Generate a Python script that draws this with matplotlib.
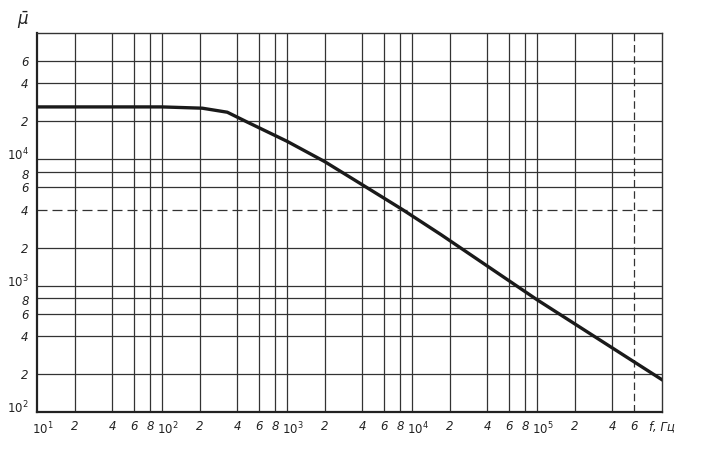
import matplotlib
matplotlib.use("Agg")
import matplotlib.pyplot as plt
import matplotlib.transforms as mtransforms

# кривая mu(f)
freq = [10, 100, 210, 333, 482, 1000, 2000, 4100, 8400, 17000, 100000, 1000000]
mu = [2.6e4, 2.6e4, 2.54e4, 2.36e4, 1.97e4, 1.39e4, 9.6e3, 6.2e3, 4.0e3, 2.54e3, 774, 180]

# сетка и подписи
x_ticks = [10, 20, 40, 60, 80, 100, 200, 400, 600, 800, 1e3, 2e3, 4e3, 6e3, 8e3,
           1e4, 2e4, 4e4, 6e4, 8e4, 1e5, 2e5, 4e5, 6e5, 1e6]
x_labels = ['$10^1$', '2', '4', '6', '8', '$10^2$', '2', '4', '6', '8', '$10^3$', '2', '4', '6', '8',
            '$10^4$', '2', '4', '6', '8', '$10^5$', '2', '4', '6', 'f, Гц']
y_ticks = [100, 200, 400, 600, 800, 1e3, 2e3, 4e3, 6e3, 8e3, 1e4, 2e4, 4e4, 6e4]
y_labels = ['$10^2$', '2', '4', '6', '8', '$10^3$', '2', '4', '6', '8', '$10^4$', '2', '4', '6']

plt.rcParams['mathtext.fontset'] = 'dejavusans'
plt.rcParams['mathtext.default'] = 'it'

fig = plt.figure(figsize=(7.07, 4.61), dpi=100)
ax = fig.add_axes([0.0523, 0.1063, 0.8841, 0.8221])
ax.set_xscale('log')
ax.set_yscale('log')
ax.set_xlim(10, 1e6)
ax.set_ylim(100, 1e5)

grid_col = '#333333'
for x in x_ticks[1:-1]:
    ls = (0, (6, 3)) if x in (6e5,) else '-'
    ax.axvline(x, color=grid_col, lw=0.9, ls=ls, zorder=1)
for y in y_ticks[1:]:
    ls = (0, (8, 4)) if y in (4e3,) else '-'
    ax.axhline(y, color=grid_col, lw=0.9, ls=ls, zorder=1)

ax.plot(freq, mu, color='#1a1a1a', lw=2.4, zorder=3)

ax.set_xticks(x_ticks)
ax.set_xticklabels(x_labels, fontstyle='italic', fontsize=8.5)
ax.set_yticks(y_ticks)
ax.set_yticklabels(y_labels, fontstyle='italic', fontsize=8.5)
ax.minorticks_off()
ax.tick_params(length=0, pad=6, colors='#222222')

# подписи 10^n чуть сдвинуть, чтобы не налезали на "8"
for lab in ax.get_xticklabels():
    if lab.get_text().startswith('$10'):
        lab.set_transform(lab.get_transform() + mtransforms.ScaledTranslation(4 / 72, 0, fig.dpi_scale_trans))
for lab in ax.get_yticklabels():
    if lab.get_text().startswith('$10'):
        lab.set_transform(lab.get_transform() + mtransforms.ScaledTranslation(0, 4 / 72, fig.dpi_scale_trans))
    elif lab.get_text() == '8':
        lab.set_transform(lab.get_transform() + mtransforms.ScaledTranslation(0, -1.5 / 72, fig.dpi_scale_trans))

for side in ['left', 'bottom']:
    ax.spines[side].set_linewidth(1.6)
    ax.spines[side].set_color('#222222')
for side in ['top', 'right']:
    ax.spines[side].set_linewidth(1.0)
    ax.spines[side].set_color('#333333')

fig.text(0.032, 0.955, r'$\bar{\mu}$', fontsize=12, ha='center', va='center', color='#222222')

fig.savefig('out.png', dpi=100, facecolor='white')
